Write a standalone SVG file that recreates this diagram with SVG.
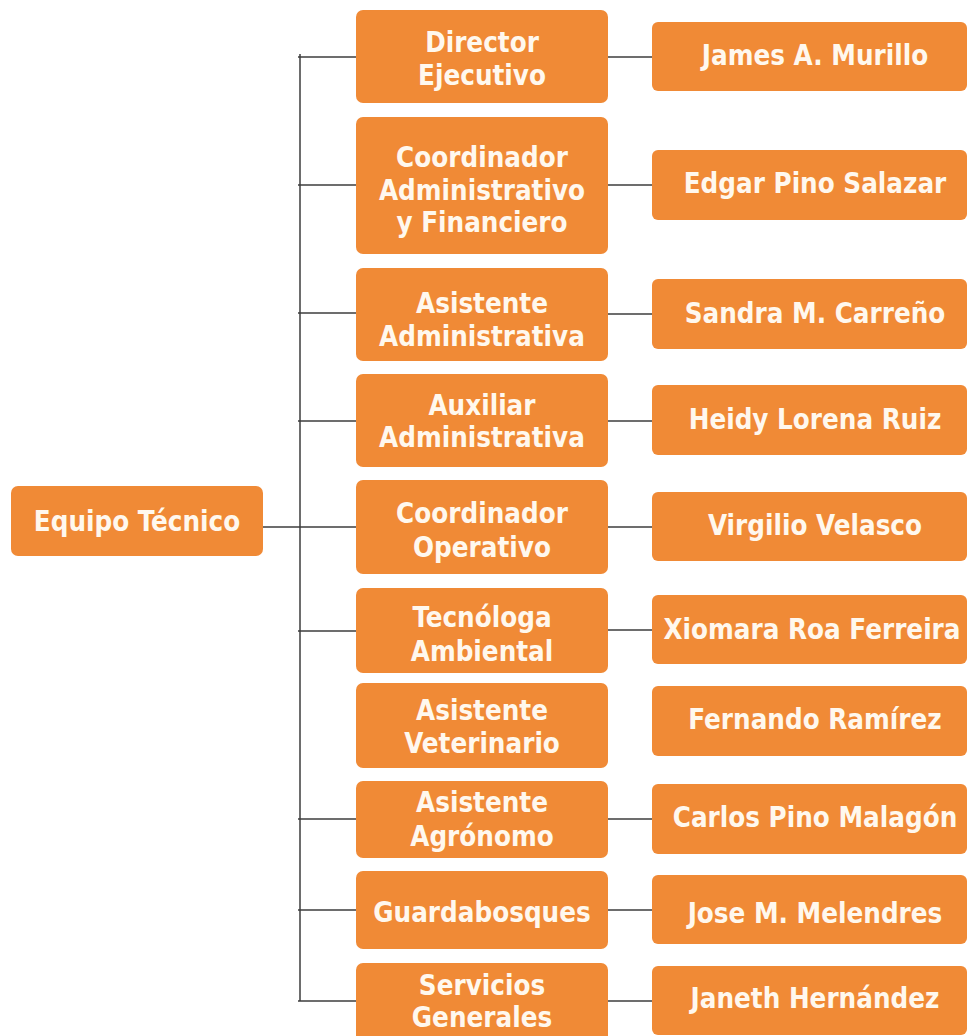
<svg xmlns="http://www.w3.org/2000/svg" width="968" height="1036" viewBox="0 0 968 1036">
<style>
.box{fill:#F08A36}
.t{font-family:"DejaVu Sans Condensed","DejaVu Sans",Verdana,sans-serif;font-stretch:condensed;font-weight:bold;font-size:27.5px;fill:#FFF8EE;text-anchor:middle}
.c{stroke:#3d3d3d;stroke-width:1.5;fill:none}
</style>
<rect width="968" height="1036" fill="#ffffff"/>
<g id="connectors">
<line class="c" x1="300" y1="54" x2="300" y2="1001"/>
<line class="c" x1="263" y1="527" x2="356" y2="527"/>
<line class="c" x1="298" y1="57" x2="356" y2="57"/>
<line class="c" x1="298" y1="185" x2="356" y2="185"/>
<line class="c" x1="298" y1="313" x2="356" y2="313"/>
<line class="c" x1="298" y1="421" x2="356" y2="421"/>
<line class="c" x1="298" y1="631" x2="356" y2="631"/>
<line class="c" x1="298" y1="819" x2="356" y2="819"/>
<line class="c" x1="298" y1="910" x2="356" y2="910"/>
<line class="c" x1="298" y1="1001" x2="356" y2="1001"/>
<line class="c" x1="608" y1="57" x2="652" y2="57"/>
<line class="c" x1="608" y1="185" x2="652" y2="185"/>
<line class="c" x1="608" y1="314" x2="652" y2="314"/>
<line class="c" x1="608" y1="421" x2="652" y2="421"/>
<line class="c" x1="608" y1="527" x2="652" y2="527"/>
<line class="c" x1="608" y1="630" x2="652" y2="630"/>
<line class="c" x1="608" y1="819" x2="652" y2="819"/>
<line class="c" x1="608" y1="910" x2="652" y2="910"/>
<line class="c" x1="608" y1="1001" x2="652" y2="1001"/>
</g>
<g id="equipo"><rect class="box" x="11" y="486" width="252" height="70" rx="7"/><text class="t" x="137" y="531">Equipo Técnico</text></g>

<g id="director"><rect class="box" x="356" y="10" width="252" height="93" rx="7"/><text class="t" x="482" y="52">Director</text><text class="t" x="482" y="85">Ejecutivo</text></g>
<g id="coord-adm"><rect class="box" x="356" y="117" width="252" height="137" rx="7"/><text class="t" x="482" y="167">Coordinador</text><text class="t" x="482" y="200">Administrativo</text><text class="t" x="482" y="232">y Financiero</text></g>
<g id="asist-adm"><rect class="box" x="356" y="268" width="252" height="93" rx="7"/><text class="t" x="482" y="313">Asistente</text><text class="t" x="482" y="346">Administrativa</text></g>
<g id="aux-adm"><rect class="box" x="356" y="374" width="252" height="93" rx="7"/><text class="t" x="482" y="415">Auxiliar</text><text class="t" x="482" y="447">Administrativa</text></g>
<g id="coord-op"><rect class="box" x="356" y="480" width="252" height="94" rx="7"/><text class="t" x="482" y="523">Coordinador</text><text class="t" x="482" y="557">Operativo</text></g>
<g id="tecnologa"><rect class="box" x="356" y="588" width="252" height="85" rx="7"/><text class="t" x="482" y="627">Tecnóloga</text><text class="t" x="482" y="661">Ambiental</text></g>
<g id="asist-vet"><rect class="box" x="356" y="683" width="252" height="85" rx="7"/><text class="t" x="482" y="720">Asistente</text><text class="t" x="482" y="753">Veterinario</text></g>
<g id="asist-agr"><rect class="box" x="356" y="781" width="252" height="77" rx="7"/><text class="t" x="482" y="812">Asistente</text><text class="t" x="482" y="846">Agrónomo</text></g>
<g id="guarda"><rect class="box" x="356" y="871" width="252" height="78" rx="7"/><text class="t" x="482" y="922">Guardabosques</text></g>
<g id="servicios"><rect class="box" x="356" y="963" width="252" height="80" rx="7"/><text class="t" x="482" y="995">Servicios</text><text class="t" x="482" y="1027">Generales</text></g>

<g id="james"><rect class="box" x="652" y="22" width="315" height="69" rx="6"/><text class="t" x="815" y="65">James A. Murillo</text></g>
<g id="edgar"><rect class="box" x="652" y="150" width="315" height="70" rx="6"/><text class="t" x="815" y="193">Edgar Pino Salazar</text></g>
<g id="sandra"><rect class="box" x="652" y="279" width="315" height="70" rx="6"/><text class="t" x="815" y="323">Sandra M. Carreño</text></g>
<g id="heidy"><rect class="box" x="652" y="385" width="315" height="70" rx="6"/><text class="t" x="815" y="429">Heidy Lorena Ruiz</text></g>
<g id="virgilio"><rect class="box" x="652" y="492" width="315" height="69" rx="6"/><text class="t" x="815" y="535">Virgilio Velasco</text></g>
<g id="xiomara"><rect class="box" x="652" y="595" width="315" height="69" rx="6"/><text class="t" x="812" y="639">Xiomara Roa Ferreira</text></g>
<g id="fernando"><rect class="box" x="652" y="686" width="315" height="70" rx="6"/><text class="t" x="815" y="729">Fernando Ramírez</text></g>
<g id="carlos"><rect class="box" x="652" y="784" width="315" height="70" rx="6"/><text class="t" x="815" y="827">Carlos Pino Malagón</text></g>
<g id="jose"><rect class="box" x="652" y="875" width="315" height="69" rx="6"/><text class="t" x="815" y="923">Jose M. Melendres</text></g>
<g id="janeth"><rect class="box" x="652" y="966" width="315" height="69" rx="6"/><text class="t" x="815" y="1008">Janeth Hernández</text></g>
</svg>
